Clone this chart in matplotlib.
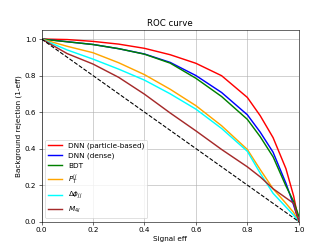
import matplotlib
matplotlib.use("Agg")
import matplotlib.pyplot as plt

# signal efficiency points
sig_eff = [0.0, 0.1, 0.2, 0.3, 0.4, 0.5, 0.6, 0.7, 0.8, 0.85, 0.9, 0.95, 0.98, 1.0]

# background rejection for each classifier
dnn_particle = [1.0, 0.997, 0.987, 0.972, 0.949, 0.914, 0.867, 0.799, 0.68, 0.58, 0.46, 0.29, 0.14, 0.0]
dnn_dense = [1.0, 0.985, 0.97, 0.947, 0.918, 0.872, 0.80, 0.707, 0.585, 0.49, 0.38, 0.21, 0.09, 0.0]
bdt = [1.0, 0.985, 0.97, 0.947, 0.917, 0.868, 0.785, 0.685, 0.56, 0.465, 0.355, 0.195, 0.11, 0.03]
pt_jj = [1.0, 0.96, 0.925, 0.87, 0.805, 0.725, 0.635, 0.525, 0.395, 0.285, 0.18, 0.10, 0.05, 0.0]
dphi_jj = [1.0, 0.94, 0.89, 0.835, 0.775, 0.70, 0.616, 0.51, 0.385, 0.265, 0.155, 0.08, 0.035, 0.0]
m_4l = [1.0, 0.92, 0.863, 0.79, 0.698, 0.595, 0.497, 0.395, 0.30, 0.245, 0.18, 0.13, 0.10, 0.0]

labels = ["DNN (particle-based)", "DNN (dense)", "BDT", r"$P_T^{jj}$", r"$\Delta\phi_{jj}$", r"$M_{4l}$"]
colors = ["red", "blue", "green", "orange", "cyan", "brown"]

fig = plt.figure(figsize=(6.4, 4.8), dpi=51.875)
ax = fig.add_subplot(111)
for y, lab, c in zip([dnn_particle, dnn_dense, bdt, pt_jj, dphi_jj, m_4l], labels, colors):
    ax.plot(sig_eff, y, color=c, lw=2, label=lab)
ax.plot([0, 1], [1, 0], "k--")
ax.set_xlim(0, 1)
ax.set_ylim(0, 1.05)
ax.grid(True)
ax.set_title("ROC curve")
ax.set_xlabel("Signal eff")
ax.set_ylabel("Background rejection (1-eff)")
ax.legend(loc="lower left")
fig.savefig("out.png", dpi=51.875)
